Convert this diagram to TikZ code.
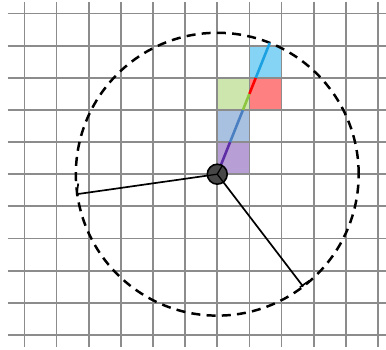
\documentclass[tikz,border=0pt]{standalone}
\usetikzlibrary{calc}
\definecolor{gridgray}{HTML}{8C8C8C}
\definecolor{cpurple}{HTML}{B79FD6}
\definecolor{cblue}{HTML}{A9C1E0}
\definecolor{cgreen}{HTML}{CDE6AE}
\definecolor{cred}{HTML}{FF8080}
\definecolor{ccyan}{HTML}{86D4F5}
\definecolor{lpurple}{HTML}{5E2CA5}
\definecolor{lblue}{HTML}{4A7FC1}
\definecolor{lgreen}{HTML}{8CC63F}
\definecolor{lred}{HTML}{FF0000}
\definecolor{lcyan}{HTML}{1BA1E2}
\tikzset{
  gridline/.style={draw=gridgray, line width=1.6pt},
  cellbox/.style={draw=none},
  rayseg/.style={line width=2.3pt},
  blackray/.style={draw=black, line width=1.5pt},
  ticked/.style={draw=black, line width=1.5pt},
  bigcircle/.style={draw=black, line width=2.2pt, dash pattern=on 8pt off 5.5pt},
  hub/.style={draw=black, line width=1.4pt, fill=black!72}
}
\begin{document}
\begin{tikzpicture}
\useasboundingbox (-6.76,-5.45) rectangle (5.25,5.42);
% colored cells
\fill[cpurple] (0,0) rectangle (1,1);
\fill[cblue] (0,1) rectangle (1,2);
\fill[cgreen] (0,2) rectangle (1,3);
\fill[cred] (1,2) rectangle (2,3);
\fill[ccyan] (1,3) rectangle (2,4);
% grid
\foreach \j in {-5,...,5} \draw[gridline] (-6.52,\j) -- (5.3,\j);
\foreach \i in {-6,...,5} \draw[gridline] (\i,5.37) -- (\i,-5.38);
% dashed circle
\coordinate (O) at (0,0);
\draw[bigcircle] (O) circle (4.4);
% coloured ray
\coordinate (P1) at (0.4,1);
\coordinate (P2) at (0.8,2);
\coordinate (P3) at (1,2.5);
\coordinate (P4) at (1.2,3);
\coordinate (P5) at (68.2:4.4);
\draw[rayseg, lpurple] (O) -- (P1);
\draw[rayseg, lblue] (P1) -- (P2);
\draw[rayseg, lgreen] (P2) -- (P3);
\draw[rayseg, lred] (P3) -- (P4);
\draw[rayseg, lcyan] (P4) -- (P5);
% black rays with end ticks
\coordinate (A) at (188.1:4.4);
\coordinate (B) at (-52.6:4.4);
\draw[blackray] (O) -- (A);
\draw[blackray] (O) -- (B);
\coordinate (A1) at ($(A)+(-0.02,-0.03)$);
\coordinate (A2) at ($(A)+(0.03,0.33)$);
\draw[ticked] (A1) -- (A2);
\coordinate (B1) at ($(B)+(-0.1,-0.02)$);
\coordinate (B2) at ($(B)+(0.19,0.18)$);
\draw[ticked] (B1) -- (B2);
% hub
\node[hub, circle, minimum size=0.62cm, inner sep=0pt] (H) at (O) {};
\draw[black, line width=1.1pt] (O) -- (188.1:0.3);
\draw[black, line width=1.1pt] (O) -- (-52.6:0.3);
\draw[black, line width=1.1pt] (O) -- (60:0.3);
\end{tikzpicture}
\end{document}
